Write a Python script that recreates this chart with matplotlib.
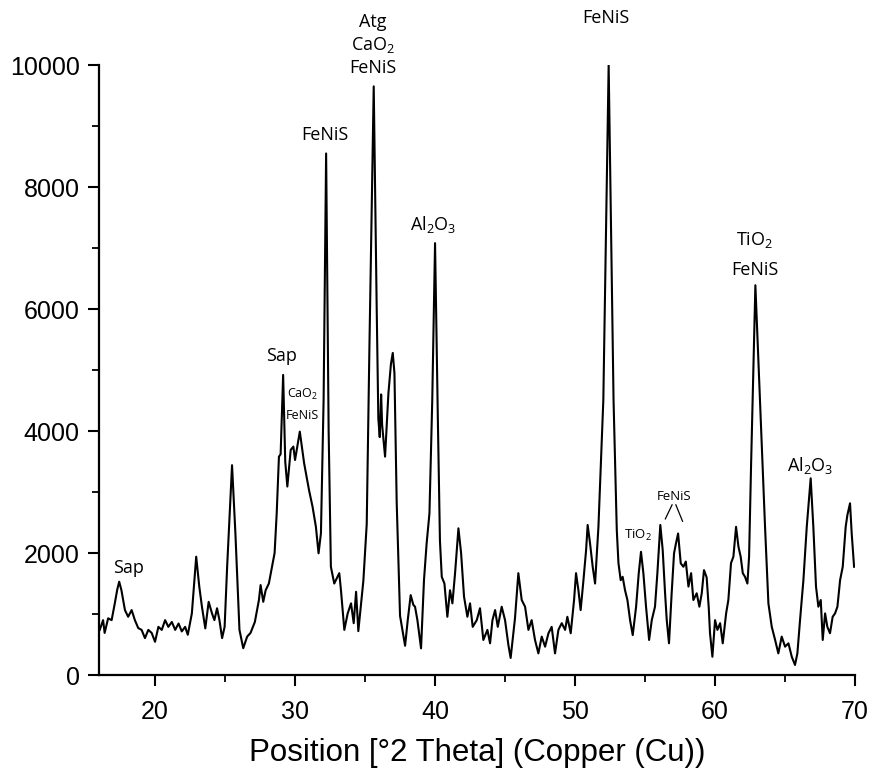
import matplotlib
matplotlib.use("Agg")
import matplotlib.pyplot as plt
from matplotlib.ticker import MultipleLocator

plt.rcParams['font.family'] = ['Liberation Sans', 'DejaVu Sans']
plt.rcParams['mathtext.fontset'] = 'custom'
plt.rcParams['mathtext.rm'] = 'Open Sans'
plt.rcParams['mathtext.default'] = 'regular'

# diffractogram: 2 theta (deg) and counts
two_theta = [
    16.05, 16.29, 16.4, 16.65, 16.9, 17.13, 17.3, 17.44, 17.6, 17.85,
    18.08, 18.33, 18.56, 18.8, 19.04, 19.28, 19.52, 19.76, 20.0, 20.24,
    20.48, 20.72, 20.95, 21.2, 21.44, 21.68, 21.91, 22.15, 22.34, 22.63,
    22.94, 23.16, 23.35, 23.59, 23.83, 24.07, 24.24, 24.43, 24.6, 24.79,
    24.97, 25.15, 25.5, 25.74, 26.03, 26.3, 26.58, 26.82, 27.13, 27.42,
    27.54, 27.73, 27.9, 28.13, 28.38, 28.54, 28.69, 28.85, 28.97, 29.15,
    29.3, 29.45, 29.69, 29.88, 30.0, 30.34, 30.65, 31.0, 31.25, 31.49,
    31.68, 31.85, 32.04, 32.22, 32.4, 32.56, 32.8, 33.16, 33.28, 33.52,
    33.76, 34.0, 34.19, 34.36, 34.52, 34.88, 35.12, 35.31, 35.62, 35.83,
    35.95, 36.05, 36.15, 36.22, 36.43, 36.67, 36.85, 36.98, 37.1, 37.26,
    37.5, 37.7, 37.86, 38.05, 38.26, 38.45, 38.57, 38.74, 39.0, 39.21,
    39.4, 39.6, 39.8, 40.0, 40.2, 40.35, 40.48, 40.67, 40.88, 41.07,
    41.24, 41.43, 41.67, 41.86, 42.07, 42.31, 42.5, 42.69, 42.98, 43.21,
    43.45, 43.74, 43.93, 44.1, 44.29, 44.48, 44.76, 45.0, 45.24, 45.4,
    45.71, 45.95, 46.19, 46.43, 46.67, 46.9, 47.14, 47.38, 47.62, 47.86,
    48.1, 48.33, 48.57, 48.81, 49.05, 49.29, 49.45, 49.69, 49.93, 50.07,
    50.24, 50.4, 50.6, 50.79, 50.9, 51.07, 51.26, 51.43, 51.67, 51.86,
    52.02, 52.4, 52.75, 52.98, 53.1, 53.26, 53.4, 53.57, 53.74, 53.93,
    54.12, 54.36, 54.55, 54.71, 54.88, 55.07, 55.29, 55.48, 55.71, 55.88,
    56.09, 56.26, 56.43, 56.55, 56.71, 56.9, 57.07, 57.21, 57.36, 57.55,
    57.74, 57.91, 58.1, 58.29, 58.45, 58.69, 58.88, 59.05, 59.21, 59.4,
    59.55, 59.64, 59.81, 60.0, 60.17, 60.36, 60.55, 60.79, 60.95, 61.14,
    61.31, 61.5, 61.67, 61.83, 61.98, 62.14, 62.31, 62.43, 62.57, 62.88,
    63.21, 63.57, 63.81, 64.05, 64.29, 64.52, 64.76, 65.0, 65.24, 65.48,
    65.71, 65.88, 66.07, 66.31, 66.55, 66.83, 67.02, 67.21, 67.38, 67.55,
    67.69, 67.86, 68.02, 68.21, 68.4, 68.57, 68.74, 68.93, 69.12, 69.33,
    69.45, 69.64, 69.76, 69.93,
]
counts = [
    740, 900, 690, 930, 900, 1180, 1400, 1530, 1390, 1065,
    955, 1065, 900, 770, 740, 605, 740, 690, 545, 790,
    740, 900, 790, 870, 740, 845, 715, 790, 660, 1010,
    1940, 1450, 1120, 765, 1200, 1010, 900, 1095, 900, 605,
    790, 1775, 3440, 2325, 740, 440, 630, 690, 870, 1230,
    1475, 1200, 1390, 1500, 1800, 2000, 2650, 3580, 3620, 4920,
    3500, 3090, 3690, 3745, 3525, 3990, 3470, 3030, 2760, 2430,
    1995, 2325, 4510, 8550, 4000, 1775, 1500, 1670, 1390, 740,
    1010, 1175, 850, 1365, 720, 1545, 2475, 5340, 9650, 6050,
    4200, 3900, 4600, 4100, 3580, 4620, 5100, 5280, 4950, 2835,
    970, 700, 480, 900, 1310, 1150, 1120, 900, 437, 1555,
    2160, 2650, 4500, 7080, 4200, 2200, 1610, 1500, 955, 1390,
    1175, 1670, 2405, 2000, 1285, 955, 1175, 790, 900, 1095,
    575, 740, 520, 900, 1065, 790, 1120, 900, 490, 280,
    930, 1670, 1230, 1120, 740, 900, 575, 355, 630, 465,
    685, 790, 355, 740, 850, 740, 955, 685, 1230, 1670,
    1390, 1065, 1555, 2050, 2460, 2160, 1775, 1500, 2430, 3580,
    4510, 10000, 4500, 2380, 1835, 1555, 1610, 1390, 1230, 900,
    655, 1120, 1670, 2020, 1670, 1120, 575, 900, 1120, 1670,
    2460, 2050, 1340, 900, 520, 1340, 1995, 2160, 2320, 1830,
    1775, 1860, 1450, 1670, 1230, 1340, 1120, 1340, 1720, 1600,
    1100, 685, 300, 900, 740, 850, 520, 1010, 1230, 1835,
    1940, 2430, 2105, 1940, 1670, 1610, 1500, 1940, 3415, 6390,
    4510, 2430, 1175, 790, 575, 355, 630, 465, 520, 300,
    165, 355, 900, 1555, 2430, 3225, 2430, 1450, 1120, 1230,
    575, 1010, 790, 685, 955, 1010, 1120, 1555, 1775, 2430,
    2620, 2815, 2320, 1775,
]

# phase labels: (text, x, y, fontsize)
labels = [
    ("Sap", 18.07, 1760, 13),
    ("Sap", 29.0, 5230, 13),
    ("CaO$_2$", 30.55, 4600, 9),
    ("FeNiS", 30.55, 4260, 9),
    ("FeNiS", 32.14, 8850, 13),
    ("Atg", 35.57, 10700, 13),
    ("CaO$_2$", 35.57, 10330, 13),
    ("FeNiS", 35.57, 9950, 13),
    ("Al$_2$O$_3$", 39.86, 7380, 13),
    ("FeNiS", 52.2, 10770, 13),
    ("TiO$_2$", 62.86, 7130, 13),
    ("FeNiS", 62.86, 6640, 13),
    ("Al$_2$O$_3$", 66.8, 3440, 13),
    ("TiO$_2$", 54.5, 2280, 9.5),
    ("FeNiS", 57.05, 2920, 9.5),
]

fig = plt.figure(figsize=(8.71, 7.72), dpi=100)
ax = fig.add_axes([0.1137, 0.1256, 0.868, 0.7902])

ax.plot(two_theta, counts, color="black", linewidth=1.5)

for txt, x, y, fs in labels:
    ax.text(x, y, txt, ha="center", va="center", fontsize=fs,
            family="Open Sans", clip_on=False)

# little leader lines under the small FeNiS label
ax.plot([56.93, 56.45], [2790, 2560], color="black", linewidth=0.9)
ax.plot([57.2, 57.68], [2790, 2520], color="black", linewidth=0.9)

ax.set_xlim(16, 70)
ax.set_ylim(0, 10000)
ax.xaxis.set_major_locator(MultipleLocator(10))
ax.xaxis.set_minor_locator(MultipleLocator(5))
ax.yaxis.set_major_locator(MultipleLocator(2000))
ax.yaxis.set_minor_locator(MultipleLocator(1000))

for side in ["top", "right"]:
    ax.spines[side].set_visible(False)
for side in ["left", "bottom"]:
    ax.spines[side].set_linewidth(1.6)

ax.tick_params(which="major", direction="out", length=8, width=1.5,
               labelsize=18, pad=6)
ax.tick_params(which="minor", direction="out", length=5, width=1.3)
ax.tick_params(axis="x", which="major", pad=10)

ax.set_xlabel("Position [°2 Theta] (Copper (Cu))", fontsize=22.5, labelpad=10)

plt.savefig("out.png", dpi=100)
